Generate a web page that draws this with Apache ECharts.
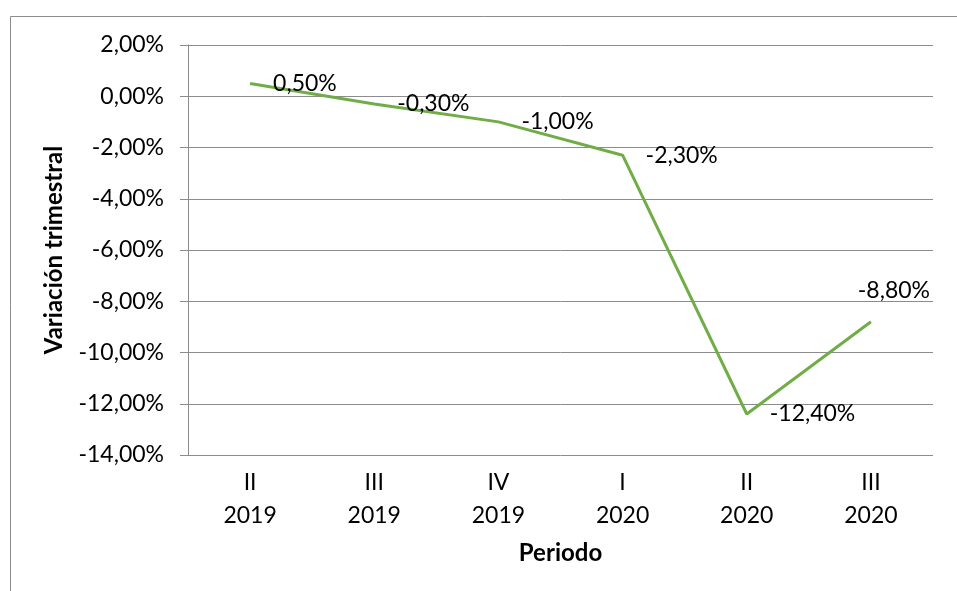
<!DOCTYPE html>
<html><head><meta charset="utf-8">
<script src="https://cdn.jsdelivr.net/npm/echarts@6/dist/echarts.min.js"></script>
<style>html,body{margin:0;padding:0;background:#fff}#c{width:957px;height:591px}</style>
</head><body><div id="c"></div>
<script>
const categories = ['II\n2019','III\n2019','IV\n2019','I\n2020','II\n2020','III\n2020'];
const values = [0.5, -0.3, -1.0, -2.3, -12.4, -8.8];
const FONT = 'Lato, "Open Sans", sans-serif';
const fmt = v => v.toFixed(2).replace('.', ',') + '%';
const chart = echarts.init(document.getElementById('c'));
chart.setOption({
  animation: false,
  backgroundColor: '#fff',
  graphic: [{type:'rect', shape:{x:10.5,y:16.5,width:1200,height:1200}, style:{fill:'none', stroke:'#8c8c8c', lineWidth:1}, silent:true}],
  grid: {left:188, right:24, top:45, bottom:136},
  xAxis: {
    type:'category', data:categories, boundaryGap:true,
    axisLine:{show:false}, axisTick:{show:false},
    axisLabel:{color:'#000', fontSize:23, fontFamily:FONT, lineHeight:33, margin:11},
    name:'Periodo', nameLocation:'middle', nameGap:86,
    nameTextStyle:{fontWeight:'bold', fontSize:24, color:'#000', fontFamily:FONT}
  },
  yAxis: {
    type:'value', min:-14, max:2, interval:2,
    axisLine:{show:true, lineStyle:{color:'#8c8c8c'}},
    axisTick:{show:true, length:8, lineStyle:{color:'#8c8c8c'}},
    axisLabel:{color:'#000', fontSize:23, fontFamily:FONT, margin:24, formatter:v=>fmt(v)},
    splitLine:{lineStyle:{color:'#8c8c8c'}},
    name:'Variación trimestral', nameLocation:'middle', nameGap:122,
    nameTextStyle:{fontWeight:'bold', fontSize:24, color:'#000', fontFamily:FONT}
  },
  series: [{
    type:'line', data: values.map((v,i)=> i===5 ? {value:v, label:{position:'top', distance:19, padding:[0,0,0,46]}} : v),
    symbol:'circle', symbolSize:2, showSymbol:true,
    lineStyle:{color:'#70AD47', width:3}, itemStyle:{color:'rgba(0,0,0,0)'},
    labelLayout:{hideOverlap:false},
    label:{show:true, position:'right', distance:22, color:'#000', fontSize:23, fontFamily:FONT, formatter:p=>fmt(p.value)}
  }]
});
</script></body></html>
